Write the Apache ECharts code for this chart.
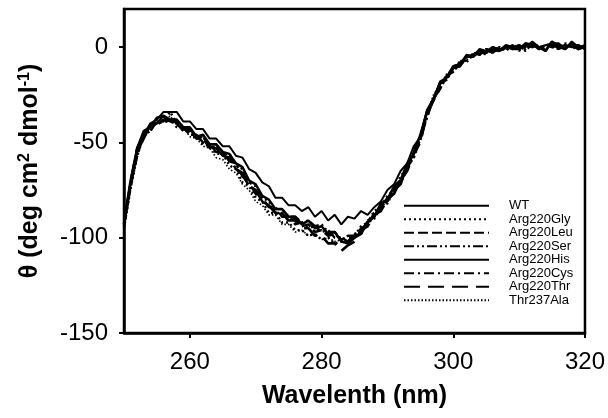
<!DOCTYPE html>
<html><head><meta charset="utf-8">
<script src="https://cdn.jsdelivr.net/npm/echarts@6/dist/echarts.min.js"></script>
<style>html,body{margin:0;padding:0;background:#fff}#c{width:608px;height:418px}</style>
</head><body><div id="c"></div>
<script>
var wavelengths = [250,251,252,253,254,255,256,257,258,259,260,261,262,263,264,265,266,267,268,269,270,271,272,273,274,275,276,277,278,279,280,281,282,283,284,285,286,287,288,289,290,291,292,293,294,295,296,297,298,299,300,301,302,303,304,305,306,307,308,309,310,311,312,313,314,315,316,317,318,319,320];
var xTicks = [260,280,300,320];
var yTicks = [-150,-100,-50,0];
var seriesNames = ['WT','Arg220Gly','Arg220Leu','Arg220Ser','Arg220His','Arg220Cys','Arg220Thr','Thr237Ala'];
var WT = [-92,-70,-53,-44,-42,-37,-36,-38,-38,-42,
-42,-47,-46,-51,-51,-55,-56,-61,-63,-70,
-72,-78,-80,-85,-85,-89,-89,-93,-91,-95,
-94,-98,-97,-102,-103,-100,-98,-92,-89,-82,
-80,-73,-70,-61,-56,-46,-34,-27,-19,-16,
-10,-9,-5,-4,-2,-3,0,-2,1,0,
-1,2,1,0,-2,3,0,-1,2,0,0];
var Arg220Gly = [-95,-74,-57,-46,-44,-39,-39,-34,-40,-42,
-46,-46,-51,-52,-56,-56,-62,-64,-71,-73,
-79,-81,-87,-87,-92,-92,-96,-96,-99,-98,
-101,-100,-103,-102,-103,-99,-98,-92,-90,-84,
-82,-75,-72,-63,-58,-48,-37,-27,-22,-15,
-13,-8,-8,-4,-4,-1,-3,0,-2,1,
0,-2,2,-1,1,0,-1,2,0,-1,1];
var Arg220Leu = [-93,-73,-55,-48,-41,-41,-38,-39,-39,-43,
-44,-48,-48,-53,-53,-57,-58,-64,-67,-73,
-75,-81,-83,-87,-87,-91,-90,-94,-93,-97,
-96,-99,-98,-101,-100,-100,-95,-93,-87,-85,
-79,-76,-69,-64,-55,-49,-34,-28,-19,-17,
-11,-10,-5,-5,-2,-4,-1,-2,0,-1,
-1,1,0,1,-2,2,0,1,0,1,-1];
var Arg220Ser = [-94,-72,-54,-47,-41,-40,-36,-39,-40,-44,
-43,-47,-47,-51,-51,-56,-56,-62,-64,-71,
-73,-79,-81,-85,-85,-89,-89,-92,-91,-94,
-93,-97,-97,-101,-99,-99,-94,-92,-86,-84,
-78,-75,-68,-63,-54,-48,-34,-28,-19,-17,
-11,-10,-5,-5,-2,-3,-1,-2,0,-1,
0,-1,2,-1,0,1,1,-1,2,-1,0];
var Arg220His = [-92,-71,-53,-46,-40,-38,-34,-34,-34,-39,
-39,-43,-43,-48,-48,-52,-52,-57,-58,-64,
-66,-71,-73,-79,-79,-83,-83,-86,-84,-89,
-86,-91,-88,-93,-89,-90,-86,-88,-84,-81,
-75,-72,-65,-61,-52,-47,-33,-27,-18,-16,
-10,-9,-4,-5,-1,-2,0,-1,0,0,
1,0,3,0,1,2,2,-1,3,0,1];
var Arg220Cys = [-93,-72,-57,-46,-44,-39,-40,-38,-42,-42,
-46,-46,-50,-51,-55,-55,-60,-61,-68,-71,
-77,-79,-84,-84,-89,-89,-93,-92,-95,-94,
-97,-96,-100,-100,-102,-98,-97,-91,-89,-83,
-81,-75,-72,-63,-58,-48,-37,-27,-22,-15,
-13,-8,-7,-3,-4,-1,-3,0,-1,1,
-2,1,0,1,-2,3,-1,1,0,1,-1];
var Arg220Thr = [-93,-71,-53,-47,-41,-40,-37,-39,-39,-43,
-43,-47,-47,-52,-53,-57,-58,-64,-66,-73,
-75,-81,-83,-87,-87,-91,-91,-95,-95,-99,
-99,-103,-103,-107,-104,-102,-96,-94,-88,-86,
-80,-77,-70,-65,-56,-50,-35,-28,-19,-17,
-11,-10,-5,-5,-2,-3,-1,-2,0,-1,
1,-2,2,-1,1,0,1,0,1,-1,0];
var Thr237Ala = [-96,-75,-58,-47,-44,-39,-39,-36,-41,-42,
-47,-48,-52,-53,-58,-59,-64,-66,-72,-75,
-81,-83,-88,-88,-93,-93,-97,-96,-99,-98,
-101,-100,-102,-101,-102,-98,-97,-91,-89,-83,
-81,-74,-71,-62,-56,-45,-35,-25,-20,-14,
-12,-7,-7,-3,-4,-1,-2,0,-1,1,
-1,0,2,-1,1,1,-1,1,0,1,-1];

var values = [WT, Arg220Gly, Arg220Leu, Arg220Ser, Arg220His, Arg220Cys, Arg220Thr, Thr237Ala];
var styles = [
  {width:2.5, type:'solid', lw:2},
  {width:2.4, type:[2,3], lw:2},
  {width:2.4, type:[10,4], lw:2},
  {width:2.4, type:[10,3,2,3,2,3], lw:2},
  {width:2, type:'solid', lw:1.6},
  {width:2.4, type:[10,4,2,4], lw:2},
  {width:2.6, type:[16,8], lw:2.2},
  {width:1.6, type:[1.5,2], lw:1}
];
var FONT = 'Liberation Sans, Arial, sans-serif';
var series = seriesNames.map(function(n,i){
  return {
    name:n, type:'line', symbol:'none', silent:true,
    data: wavelengths.map(function(w,j){return [w, values[i][j]];}),
    lineStyle:{color:'#000', width:styles[i].width, type:styles[i].type},
    itemStyle:{color:'#000'}
  };
});
var chart = echarts.init(document.getElementById('c'));
chart.setOption({
  animation:false,
  backgroundColor:'#fff',
  grid:{left:124, right:23, top:9, bottom:85, show:true, borderColor:'#000', borderWidth:2.5},
  legend:{
    orient:'vertical', left:398, top:194, itemWidth:85, itemHeight:10, itemGap:0,
    itemStyle:{opacity:0, color:'transparent', borderWidth:0},
    textStyle:{fontFamily:FONT, fontSize:13, color:'#000', lineHeight:13.5, padding:[0,0,0,15]},
    data:seriesNames
  },
  xAxis:{
    type:'value', min:250, max:320,
    name:'Wavelenth (nm)', nameLocation:'middle', nameGap:51,
    nameTextStyle:{fontFamily:FONT, fontSize:25, fontWeight:'bold', color:'#000'},
    axisLine:{onZero:false, lineStyle:{color:'#000', width:2.5}},
    axisTick:{length:5, lineStyle:{width:2, color:'#000'}, customValues:xTicks},
    axisLabel:{fontFamily:FONT, fontSize:24, color:'#000', margin:17, customValues:xTicks},
    splitLine:{show:false}
  },
  yAxis:{
    type:'value', min:-150, max:20,
    name:'θ (deg cm{s|2} dmol{s|-1})', nameLocation:'middle', nameGap:81, nameRotate:90,
    nameTextStyle:{fontFamily:FONT, fontSize:25, fontWeight:'bold', color:'#000',
      rich:{s:{fontFamily:FONT, fontSize:16, fontWeight:'bold', color:'#000', verticalAlign:'top', padding:[0,0,10,0]}}},
    axisLine:{onZero:false, lineStyle:{color:'#000', width:2.5}},
    axisTick:{length:5, lineStyle:{width:2, color:'#000'}, customValues:yTicks},
    axisLabel:{fontFamily:FONT, fontSize:24, color:'#000', margin:16, customValues:yTicks},
    splitLine:{show:false}
  },
  series:series
});
</script></body></html>
